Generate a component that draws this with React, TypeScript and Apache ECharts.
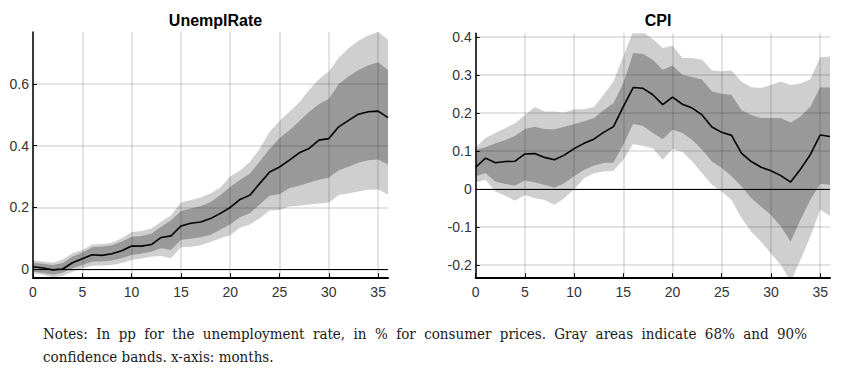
import React, { useEffect, useRef } from "react";
import * as echarts from "echarts";

// ---------- data ----------
const months = ["0","1","2","3","4","5","6","7","8","9","10","11","12","13","14","15","16","17","18","19","20","21","22","23","24","25","26","27","28","29","30","31","32","33","34","35","36"];
const xTickEvery = 5;
const unempTickValues = [0,0.2,0.4,0.6];
const cpiTickValues = [-0.2,-0.1,0,0.1,0.2,0.3,0.4];

const unempMedian = [0.008,0.004,-0.002,0.001,0.021,0.034,0.047,0.045,0.05,0.06,0.075,0.075,0.08,0.103,0.108,0.14,0.149,0.153,0.164,0.181,0.2,0.226,0.24,0.278,0.315,0.331,0.353,0.377,0.391,0.418,0.423,0.461,0.482,0.502,0.51,0.512,0.491];
const unempHi68 = [0.021,0.018,0.014,0.02,0.041,0.054,0.071,0.074,0.078,0.09,0.105,0.108,0.116,0.138,0.159,0.189,0.197,0.205,0.218,0.24,0.267,0.29,0.31,0.35,0.39,0.425,0.45,0.48,0.51,0.535,0.552,0.6,0.625,0.645,0.66,0.67,0.645];
const unempHi90 = [0.028,0.025,0.021,0.032,0.052,0.062,0.08,0.082,0.086,0.1,0.121,0.124,0.132,0.154,0.175,0.216,0.224,0.232,0.245,0.265,0.3,0.32,0.348,0.39,0.445,0.48,0.51,0.54,0.58,0.615,0.64,0.685,0.715,0.74,0.757,0.768,0.743];
const unempLo68 = [-0.008,-0.012,-0.018,-0.011,0.003,0.014,0.024,0.025,0.028,0.036,0.046,0.05,0.057,0.068,0.062,0.095,0.099,0.104,0.111,0.128,0.145,0.168,0.181,0.21,0.238,0.243,0.262,0.27,0.28,0.29,0.296,0.32,0.332,0.345,0.353,0.355,0.338];
const unempLo90 = [-0.013,-0.018,-0.026,-0.022,-0.008,0.003,0.011,0.012,0.014,0.02,0.03,0.035,0.041,0.043,0.036,0.071,0.073,0.078,0.088,0.1,0.11,0.135,0.145,0.165,0.19,0.192,0.203,0.206,0.21,0.213,0.215,0.24,0.245,0.252,0.257,0.258,0.242];

const cpiMedian = [0.057,0.081,0.069,0.072,0.073,0.092,0.093,0.083,0.077,0.089,0.106,0.12,0.131,0.149,0.164,0.217,0.267,0.265,0.248,0.222,0.242,0.223,0.213,0.195,0.163,0.149,0.141,0.094,0.072,0.057,0.048,0.035,0.018,0.052,0.09,0.142,0.138];
const cpiHi68 = [0.103,0.11,0.12,0.129,0.14,0.158,0.164,0.158,0.157,0.164,0.171,0.178,0.187,0.208,0.226,0.279,0.358,0.356,0.34,0.314,0.325,0.301,0.295,0.288,0.257,0.251,0.248,0.208,0.195,0.187,0.187,0.187,0.175,0.191,0.217,0.268,0.267];
const cpiHi90 = [0.11,0.134,0.147,0.16,0.173,0.195,0.216,0.204,0.204,0.201,0.21,0.21,0.216,0.248,0.283,0.349,0.415,0.413,0.395,0.371,0.377,0.345,0.345,0.34,0.312,0.31,0.312,0.283,0.268,0.266,0.274,0.283,0.274,0.278,0.289,0.347,0.349];
const cpiLo68 = [0.033,0.041,0.019,0.013,0.008,0.022,0.017,0.01,0.003,0.015,0.033,0.05,0.061,0.068,0.069,0.116,0.171,0.166,0.147,0.131,0.156,0.147,0.129,0.103,0.072,0.055,0.033,0.006,-0.025,-0.047,-0.069,-0.099,-0.139,-0.082,-0.029,0.013,0.011];
const cpiLo90 = [0.017,0.024,-0.007,-0.018,-0.031,-0.016,-0.025,-0.029,-0.042,-0.025,-0.001,0.028,0.041,0.046,0.048,0.077,0.118,0.113,0.107,0.077,0.105,0.098,0.072,0.041,0.011,-0.007,-0.029,-0.077,-0.113,-0.139,-0.17,-0.2,-0.245,-0.187,-0.126,-0.055,-0.071];

const titles = ["UnemplRate", "CPI"];
const notesText =
  "Notes: In pp for the unemployment rate, in % for consumer prices. Gray areas indicate 68% and 90% confidence bands. x-axis: months.";

// ---------- styles ----------
const LIGHT = "rgba(0,0,0,0.19)";
const DARK = "rgba(0,0,0,0.40)";
const GRIDLINE = "rgba(0,0,0,0.14)";
const LABEL = "#333";
const FONT = "'Liberation Sans', Arial, sans-serif";

function diff(a: number[], b: number[]) {
  return a.map((v, i) => v - b[i]);
}

function panelSeries(g: number, med: number[], lo90: number[], lo68: number[], hi68: number[], hi90: number[]) {
  const base = {
    type: "line",
    xAxisIndex: g,
    yAxisIndex: g,
    stack: "band" + g,
    stackStrategy: "all",
    symbol: "none",
    silent: true,
    lineStyle: { width: 0, opacity: 0 },
  };
  return [
    { ...base, data: lo90 },
    { ...base, data: diff(lo68, lo90), areaStyle: { color: LIGHT, opacity: 1 } },
    { ...base, data: diff(hi68, lo68), areaStyle: { color: DARK, opacity: 1 } },
    { ...base, data: diff(hi90, hi68), areaStyle: { color: LIGHT, opacity: 1 } },
    {
      type: "line",
      xAxisIndex: g,
      yAxisIndex: g,
      data: med,
      symbol: "none",
      silent: true,
      lineStyle: { color: "#000", width: 1.6 },
      markLine: {
        silent: true,
        symbol: "none",
        label: { show: false },
        lineStyle: { color: "#000", width: 1, type: "solid" },
        data: [{ yAxis: 0 }],
      },
    },
  ];
}

const showEvery = (i: number) => i % xTickEvery === 0;

function xAxis(g: number) {
  return {
    type: "category",
    gridIndex: g,
    data: months,
    boundaryGap: false,
    axisLine: { show: true, onZero: false, lineStyle: { color: "#000", width: 2 } },
    axisTick: { show: true, inside: true, length: 4, interval: showEvery, lineStyle: { color: "#000", width: 1 } },
    axisLabel: { interval: showEvery, color: LABEL, fontSize: 14, fontFamily: FONT, margin: 8 },
    splitLine: { show: true, interval: showEvery, lineStyle: { color: GRIDLINE, width: 1.5 } },
  };
}

function yAxis(g: number, min: number, max: number, ticks: number[]) {
  return {
    type: "value",
    gridIndex: g,
    min,
    max,
    axisLine: { show: true, onZero: false, lineStyle: { color: "#000", width: 1.5 } },
    axisTick: { show: true, inside: true, length: 4, customValues: ticks, lineStyle: { color: "#000", width: 1 } },
    axisLabel: { customValues: ticks, color: LABEL, fontSize: 14, fontFamily: FONT, margin: 4 },
    splitLine: { show: true, lineStyle: { color: GRIDLINE, width: 1.5 } },
  };
}

export default function App() {
  const ref = useRef<HTMLDivElement>(null);

  useEffect(() => {
    document.body.style.margin = "0";
    if (!ref.current) return;
    const chart = echarts.init(ref.current, undefined, { renderer: "svg" });
    chart.setOption({
      animation: false,
      backgroundColor: "#fff",
      title: [
        { text: titles[0], left: 210.5, top: 7, textAlign: "center", textStyle: { fontSize: 16, fontWeight: "bold", color: "#000", fontFamily: FONT } },
        { text: titles[1], left: 653, top: 7, textAlign: "center", textStyle: { fontSize: 16, fontWeight: "bold", color: "#000", fontFamily: FONT } },
      ],
      grid: [
        { left: 33, right: 456, top: 32, bottom: 95.7 },
        { left: 475.7, right: 14, top: 33.3, bottom: 95.7 },
      ],
      xAxis: [xAxis(0), xAxis(1)],
      yAxis: [yAxis(0, -0.026, 0.768, unempTickValues), yAxis(1, -0.233, 0.41, cpiTickValues)],
      series: [
        ...panelSeries(0, unempMedian, unempLo90, unempLo68, unempHi68, unempHi90),
        ...panelSeries(1, cpiMedian, cpiLo90, cpiLo68, cpiHi68, cpiHi90),
      ],
    });
    return () => chart.dispose();
  }, []);

  return (
    <div style={{ position: "relative", width: 844, height: 373, background: "#fff" }}>
      <div ref={ref} style={{ position: "absolute", left: 0, top: 0, width: 844, height: 373 }} />
      <div
        style={{
          position: "absolute",
          left: 43,
          top: 323,
          width: 764,
          fontFamily: "'DejaVu Serif', 'Liberation Serif', serif",
          fontStretch: "condensed",
          fontSize: 15,
          lineHeight: "23px",
          color: "#1a1a1a",
          textAlign: "justify",
        }}
      >
        {notesText}
      </div>
    </div>
  );
}
